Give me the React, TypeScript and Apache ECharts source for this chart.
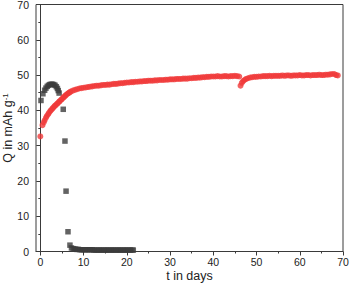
import React, { useEffect, useRef } from "react";
import * as echarts from "echarts";

const xMajorTicks = [0, 10, 20, 30, 40, 50, 60, 70];
const xMinorTicks = [5, 15, 25, 35, 45, 55, 65];

const blackPoints: [number, number][] = [
  [0.15, 42.8], [0.6, 44.7], [1.0, 45.7], [1.3, 46.3], [1.6, 46.8], [1.9, 47.1],
  [2.2, 47.3], [2.5, 47.4], [2.8, 47.4], [3.1, 47.3], [3.4, 47.1], [3.7, 46.7],
  [3.95, 46.2], [4.15, 45.6], [4.35, 44.9], [5.3, 40.3], [5.7, 31.3], [5.95, 17.1],
  [6.4, 5.6], [6.85, 1.8], [7.2, 1.0], [7.6, 0.8], [8.0, 0.7], [8.4, 0.6],
  [8.8, 0.6], [9.2, 0.5], [9.6, 0.5], [10.0, 0.5], [10.4, 0.5], [10.8, 0.5],
  [11.2, 0.5], [11.6, 0.5], [12.0, 0.5], [12.4, 0.4], [12.8, 0.4], [13.2, 0.4],
  [13.6, 0.4], [14.0, 0.4], [14.4, 0.4], [14.8, 0.4], [15.2, 0.4], [15.6, 0.4],
  [16.0, 0.4], [16.4, 0.4], [16.8, 0.4], [17.2, 0.4], [17.6, 0.4], [18.0, 0.4],
  [18.4, 0.4], [18.8, 0.4], [19.2, 0.4], [19.6, 0.4], [20.0, 0.4], [20.4, 0.4],
  [20.8, 0.4], [21.2, 0.4], [21.5, 0.4],
];

const redPoints: [number, number][] = [
  [0.0, 32.6], [0.5, 35.8], [0.8, 36.6], [1.0, 37.2], [1.3, 37.9], [1.5, 38.4],
  [1.8, 38.9], [2.0, 39.3], [2.3, 39.8], [2.5, 40.1], [2.8, 40.5], [3.0, 40.8],
  [3.3, 41.2], [3.5, 41.4], [3.8, 41.8], [4.0, 42.0], [4.3, 42.4], [4.5, 42.6],
  [4.8, 43.0], [5.0, 43.2], [5.3, 43.6], [5.5, 43.8], [5.8, 44.2], [6.0, 44.4],
  [6.3, 44.7], [6.5, 44.9], [6.8, 45.1], [7.0, 45.3], [7.5, 45.6], [8.0, 45.8],
  [8.5, 46.0], [9.0, 46.2], [9.5, 46.3], [10.0, 46.4], [10.5, 46.5], [11.0, 46.6],
  [11.5, 46.7], [12.0, 46.8], [12.5, 46.9], [13.0, 47.0], [13.5, 47.0], [14.0, 47.1],
  [14.5, 47.2], [15.0, 47.2], [15.5, 47.3], [16.0, 47.3], [16.5, 47.4], [17.0, 47.5],
  [17.5, 47.5], [18.0, 47.6], [18.5, 47.7], [19.0, 47.7], [19.5, 47.8], [20.0, 47.9],
  [20.5, 47.9], [21.0, 48.0], [21.5, 48.0], [22.0, 48.1], [22.5, 48.1], [23.0, 48.2],
  [23.5, 48.2], [24.0, 48.3], [24.5, 48.3], [25.0, 48.4], [25.5, 48.4], [26.0, 48.4],
  [26.5, 48.5], [27.0, 48.5], [27.5, 48.6], [28.0, 48.6], [28.5, 48.6], [29.0, 48.7],
  [29.5, 48.7], [30.0, 48.8], [30.5, 48.8], [31.0, 48.8], [31.5, 48.9], [32.0, 48.9],
  [32.5, 48.9], [33.0, 49.0], [33.5, 49.0], [34.0, 49.0], [34.5, 49.1], [35.0, 49.1],
  [35.5, 49.2], [36.0, 49.2], [36.5, 49.3], [37.0, 49.3], [37.5, 49.4], [38.0, 49.4],
  [38.5, 49.5], [39.0, 49.5], [39.5, 49.6], [40.0, 49.6], [40.5, 49.6], [41.0, 49.7],
  [41.5, 49.6], [42.0, 49.6], [42.5, 49.7], [43.0, 49.7], [43.5, 49.6], [44.0, 49.7],
  [44.5, 49.7], [45.0, 49.8], [45.5, 49.7], [46.0, 49.6], [46.3, 47.0], [46.6, 47.8],
  [46.9, 48.3], [47.2, 48.6], [47.6, 48.9], [48.0, 49.1], [48.5, 49.3], [49.0, 49.4],
  [49.5, 49.5], [50.0, 49.5], [50.5, 49.6], [51.0, 49.6], [51.5, 49.7], [52.0, 49.7],
  [52.5, 49.7], [53.0, 49.8], [53.5, 49.7], [54.0, 49.8], [54.5, 49.8], [55.0, 49.8],
  [55.5, 49.8], [56.0, 49.9], [56.5, 49.8], [57.0, 49.9], [57.5, 49.9], [58.0, 49.8],
  [58.5, 49.9], [59.0, 49.9], [59.5, 49.9], [60.0, 50.0], [60.5, 49.9], [61.0, 49.9],
  [61.5, 50.0], [62.0, 50.0], [62.5, 49.9], [63.0, 50.0], [63.5, 50.0], [64.0, 50.0],
  [64.5, 50.1], [65.0, 50.0], [65.5, 50.0], [66.0, 50.1], [66.5, 50.1], [67.0, 50.2],
  [67.5, 50.3], [68.0, 50.3], [68.4, 50.0], [68.8, 49.9],
];

const FONT = "Liberation Sans, Arial, sans-serif";
const AXIS_COLOR = "#3a3a3a";

export default function App() {
  const ref = useRef<HTMLDivElement>(null);
  useEffect(() => {
    if (!ref.current) return;
    const chart = echarts.init(ref.current, undefined, { renderer: "svg" });
    chart.setOption({
      animation: false,
      backgroundColor: "#ffffff",
      grid: {
        left: 36,
        right: 7,
        top: 4.5,
        bottom: 39.5,
        show: true,
        borderColor: AXIS_COLOR,
        borderWidth: 1,
        containLabel: false,
        outerBoundsMode: "none",
      },
      xAxis: [
        {
          type: "value",
          min: -1,
          max: 70,
          position: "bottom",
          name: "t in days",
          nameLocation: "middle",
          nameGap: 18,
          nameMoveOverlap: false,
          nameTextStyle: { fontFamily: FONT, fontSize: 12.5, color: "#222" },
          axisLine: { show: true, lineStyle: { color: AXIS_COLOR, width: 1 } },
          axisTick: {
            show: true,
            length: 4,
            customValues: xMajorTicks,
            lineStyle: { color: AXIS_COLOR, width: 1 },
          },
          axisLabel: {
            show: true,
            customValues: xMajorTicks,
            margin: 5,
            fontFamily: FONT,
            fontSize: 10.5,
            color: "#222",
          },
          splitLine: { show: false },
        },
        {
          type: "value",
          min: -1,
          max: 70,
          position: "bottom",
          axisLine: { show: false },
          axisTick: {
            show: true,
            length: 2,
            customValues: xMinorTicks,
            lineStyle: { color: AXIS_COLOR, width: 1 },
          },
          axisLabel: { show: false },
          splitLine: { show: false },
        },
      ],
      yAxis: {
        type: "value",
        min: 0,
        max: 70,
        interval: 10,
        name: "{a|Q in mAh g}{b|-1}",
        nameLocation: "middle",
        nameGap: 22,
        nameMoveOverlap: false,
        nameTextStyle: {
          rich: {
            a: { fontFamily: FONT, fontSize: 12.5, color: "#222" },
            b: { fontFamily: FONT, fontSize: 8, color: "#222", verticalAlign: "top" },
          },
        },
        axisLine: { show: true, lineStyle: { color: AXIS_COLOR, width: 1 } },
        axisTick: { show: true, length: 4, lineStyle: { color: AXIS_COLOR, width: 1 } },
        minorTick: {
          show: true,
          splitNumber: 2,
          length: 2,
          lineStyle: { color: AXIS_COLOR, width: 1 },
        },
        axisLabel: {
          margin: 7,
          fontFamily: FONT,
          fontSize: 10.5,
          color: "#222",
        },
        splitLine: { show: false },
        minorSplitLine: { show: false },
      },
      series: [
        {
          type: "scatter",
          xAxisIndex: 0,
          data: blackPoints,
          symbol: "rect",
          symbolSize: 5.5,
          itemStyle: { color: "#3c3c3c" },
          silent: true,
        },
        {
          type: "scatter",
          xAxisIndex: 0,
          data: redPoints,
          symbol: "circle",
          symbolSize: 6,
          itemStyle: { color: "#f03a3a" },
          silent: true,
        },
      ],
    });
    return () => chart.dispose();
  }, []);
  return (
    <div
      ref={ref}
      style={{ position: "fixed", left: 0, top: 0, width: 350, height: 291 }}
    />
  );
}
